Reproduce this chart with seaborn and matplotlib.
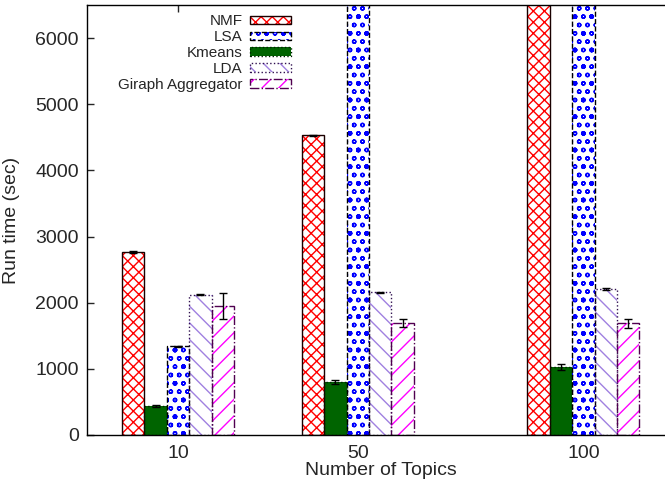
"""
Run time vs number of topics for several topic-model / clustering methods.
Grouped hatched bars, gnuplot-like look.
"""
import matplotlib
matplotlib.use("Agg")
import matplotlib.pyplot as plt
from matplotlib.legend_handler import HandlerTuple
import matplotlib.patches as mpatches
import numpy as np
import pandas as pd
import seaborn as sns

# data (values above 6500 run off the top of the axes in the original)
topics = ["10", "50", "100"]
methods = ["NMF", "LSA", "Kmeans", "LDA", "Giraph Aggregator"]
nmf = [2765, 4530, 9000]
kmeans = [440, 800, 1030]
lsa = [1340, 8000, 12000]
lda = [2120, 2160, 2205]
giraph = [1950, 1690, 1690]
nmf_err = [12, 12, 0]
kmeans_err = [20, 30, 45]
lsa_err = [8, 0, 0]
lda_err = [8, 8, 10]
giraph_err = [195, 58, 70]

# group centres on the x axis (uneven spacing as in the original)
group_pos = [1.0, 2.0, 3.256]
bar_order = ["NMF", "Kmeans", "LSA", "LDA", "Giraph Aggregator"]

values = {"NMF": nmf, "LSA": lsa, "Kmeans": kmeans, "LDA": lda, "Giraph Aggregator": giraph}
errors = {"NMF": nmf_err, "LSA": lsa_err, "Kmeans": kmeans_err, "LDA": lda_err,
          "Giraph Aggregator": giraph_err}

styles = {
    "NMF": dict(hatch="xxx", hcolor="#ff0000", edge="#1a0000", ls="-"),
    "Kmeans": dict(hatch="", hcolor="#006400", edge="#002000", ls=":"),
    "LSA": dict(hatch="oo.", hcolor="#0000ff", edge="#000000", ls="--"),
    "LDA": dict(hatch="\\\\", hcolor="#a080e0", edge="#301050", ls=":"),
    "Giraph Aggregator": dict(hatch="//", hcolor="#ff00ff", edge="#500050", ls="-."),
}

rows = []
for m in bar_order:
    for t, p, v in zip(topics, group_pos, values[m]):
        rows.append({"method": m, "topics": t, "pos": p, "time": v})
df = pd.DataFrame(rows)

sns.set_style("white")
plt.rcParams["font.family"] = ["Liberation Sans", "DejaVu Sans"]
plt.rcParams["hatch.linewidth"] = 1.0

fig = plt.figure(figsize=(6.65, 4.87), dpi=100)
ax = fig.add_axes([0.1308, 0.1068, 0.885, 0.8829])

pal = {m: styles[m]["hcolor"] for m in bar_order}
# hatched fill layer
sns.barplot(data=df, x="pos", y="time", hue="method", hue_order=bar_order,
            native_scale=True, width=0.624, gap=0, errorbar=None, palette=pal,
            legend=False, ax=ax)
# outline layer
sns.barplot(data=df, x="pos", y="time", hue="method", hue_order=bar_order,
            native_scale=True, width=0.624, gap=0, errorbar=None, palette=pal,
            fill=False, legend=False, ax=ax)

n = len(bar_order)
for i, m in enumerate(bar_order):
    st = styles[m]
    for bar in ax.containers[i]:
        if m == "Kmeans":
            bar.set_facecolor(st["hcolor"])
            bar.set_edgecolor(st["hcolor"])
        else:
            bar.set_facecolor("white")
            bar.set_edgecolor(st["hcolor"])
            bar.set_hatch(st["hatch"])
        bar.set_linewidth(0)
    for bar in ax.containers[n + i]:
        bar.set_edgecolor(st["edge"])
        bar.set_linestyle(st["ls"])
        bar.set_linewidth(1.0)
    # error bars at the bar centres
    xs = [b.get_x() + b.get_width() / 2 for b in ax.containers[i]]
    ys = np.array(values[m], dtype=float)
    es = np.array(errors[m], dtype=float)
    keep = (ys < 6500) & (es > 0)
    ax.errorbar(np.array(xs)[keep], ys[keep], yerr=es[keep], fmt="none",
                ecolor="black", elinewidth=1, capsize=3, capthick=1, zorder=5)

ax.set_xlim(0.493, 3.769)
ax.set_ylim(0, 6500)
ax.set_yticks([0, 1000, 2000, 3000, 4000, 5000, 6000])
ax.set_xticks(group_pos)
ax.set_xticklabels(topics)
ax.set_xlabel("Number of Topics", fontsize=14, labelpad=0)
ax.set_ylabel("Run time (sec)", fontsize=14, labelpad=11)
ax.tick_params(axis="y", direction="in", length=5, width=1, labelsize=14,
               left=True, right=False, pad=6)
ax.tick_params(axis="x", direction="in", length=5, width=1, labelsize=14,
               bottom=False, top=True, pad=7)
for s in ax.spines.values():
    s.set_color("black")
    s.set_linewidth(1.0)
ax.spines["right"].set_visible(False)

handles = []
for m in methods:
    st = styles[m]
    if m == "Kmeans":
        fill = mpatches.Patch(facecolor=st["hcolor"], edgecolor=st["hcolor"], linewidth=0)
    else:
        fill = mpatches.Patch(facecolor="white", edgecolor=st["hcolor"],
                              hatch=st["hatch"], linewidth=0)
    outline = mpatches.Patch(facecolor="none", edgecolor=st["edge"],
                             linestyle=st["ls"], linewidth=1.0)
    handles.append((fill, outline))

ax.legend(handles, methods, handler_map={tuple: HandlerTuple(ndivide=1)},
          loc="upper right", bbox_to_anchor=(0.347, 0.978), frameon=False,
          markerfirst=False, fontsize=11, handlelength=2.7, handleheight=0.5,
          handletextpad=0.5, labelspacing=0.12, borderpad=0, borderaxespad=0)

fig.savefig("out.png", dpi=100)
